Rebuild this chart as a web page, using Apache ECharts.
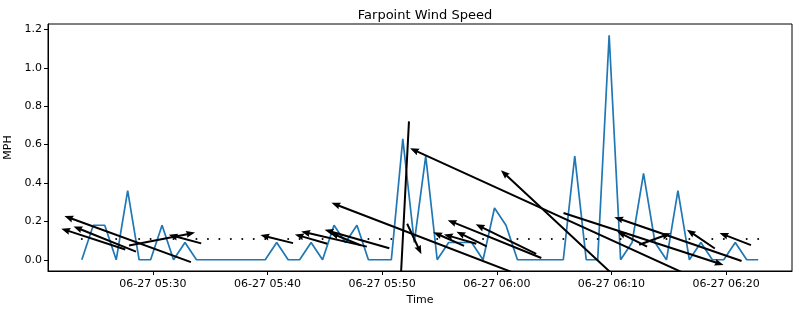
<!DOCTYPE html>
<html>
<head>
<meta charset="utf-8">
<script src="https://cdn.jsdelivr.net/npm/echarts@6/dist/echarts.min.js"></script>
<style>
  html, body { margin: 0; padding: 0; background: #fff; }
  #chart { width: 799px; height: 311px; }
</style>
</head>
<body>
<div id="chart"></div>
<script>
// ---- data ----
const day = '2024-06-27';
const times = [
  '05:23:48','05:24:48','05:25:48','05:26:48','05:27:48','05:28:48','05:29:48','05:30:48','05:31:48','05:32:48',
  '05:33:48','05:34:48','05:35:48','05:36:48','05:37:48','05:38:48','05:39:48','05:40:48','05:41:48','05:42:48',
  '05:43:48','05:44:48','05:45:48','05:46:48','05:47:48','05:48:48','05:49:48','05:50:48','05:51:48','05:52:48',
  '05:53:48','05:54:48','05:55:48','05:56:48','05:57:48','05:58:48','05:59:48','06:00:48','06:01:48','06:02:48',
  '06:03:48','06:04:48','06:05:48','06:06:48','06:07:48','06:08:48','06:09:48','06:10:48','06:11:48','06:12:48',
  '06:13:48','06:14:48','06:15:48','06:16:48','06:17:48','06:18:48','06:19:48','06:20:48','06:21:48','06:22:48'
];
const speedMph = [
  0, 0.18, 0.18, 0, 0.36, 0, 0, 0.18, 0, 0.09,
  0, 0, 0, 0, 0, 0, 0, 0.09, 0, 0,
  0.09, 0, 0.18, 0.09, 0.18, 0, 0, 0, 0.63, 0.09,
  0.54, 0, 0.09, 0.09, 0.09, 0, 0.27, 0.18, 0, 0,
  0, 0, 0, 0.54, 0, 0, 1.17, 0, 0.09, 0.45,
  0.09, 0, 0.36, 0, 0.09, 0, 0, 0.09, 0, 0
];
// arrow direction (degrees, counter-clockwise from +x on screen); null = calm
const arrowDeg = [
  null, 162, 158, null, 160, null, null, 11, null, 165,
  null, null, null, null, null, null, null, 166, null, null,
  164, null, 167, 158, 164, null, null, null, 267, 295,
  159, null, 156, 164, 154, null, 158, 154, null, null,
  null, null, null, 137, null, null, 155.5, null, 153, 342,
  20, null, 161, null, 146, null, null, 159, null, null
];
const quiverBaseline = 0.108;     // MPH level where arrows are centred
const xRange = ['05:20:51', '06:25:45'];
const yRange = [-0.0585, 1.2285];
const xTickLabels = ['06-27 05:30', '06-27 05:40', '06-27 05:50', '06-27 06:00', '06-27 06:10', '06-27 06:20'];
const yTicks = [0, 0.2, 0.4, 0.6, 0.8, 1.0, 1.2];

// ---- style constants ----
const ARROW_PX_PER_MPH = 374;
const SHAFT_W = 2, HEAD_L = 9, HEAD_W = 7;
const FONT = 'DejaVu Sans';

const toMs = (hms) => new Date(day + 'T' + hms).getTime();
const tickMs = xTickLabels.map(l => new Date(day.slice(0, 4) + '-' + l.slice(0, 5) + 'T' + l.slice(6) + ':00').getTime());
const pad = n => (n < 10 ? '0' : '') + n;
const fmtTime = v => { const d = new Date(v); return pad(d.getMonth() + 1) + '-' + pad(d.getDate()) + ' ' + pad(d.getHours()) + ':' + pad(d.getMinutes()); };

const lineData = times.map((t, i) => [toMs(t), speedMph[i]]);
const quiverData = times.map((t, i) => [toMs(t), speedMph[i], arrowDeg[i] == null ? 0 : arrowDeg[i]]);

function renderArrow(params, api) {
  const s = api.value(1);
  const deg = api.value(2);
  const c = api.coord([api.value(0), quiverBaseline]);
  if (!s) {
    return { type: 'circle', shape: { cx: c[0], cy: c[1], r: 1 }, style: { fill: '#000' } };
  }
  const L = s * ARROW_PX_PER_MPH;
  const a = deg * Math.PI / 180;
  const ux = Math.cos(a), uy = -Math.sin(a);
  const px = -uy, py = ux;
  const tail = [c[0] - ux * L / 2, c[1] - uy * L / 2];
  const tip = [c[0] + ux * L / 2, c[1] + uy * L / 2];
  const hl = Math.min(HEAD_L, L * 0.6);
  const neck = [tip[0] - ux * hl, tip[1] - uy * hl];
  const neck2 = [tip[0] - ux * hl * 0.9, tip[1] - uy * hl * 0.9];
  const pts = [
    [tail[0] + px * SHAFT_W / 2, tail[1] + py * SHAFT_W / 2],
    [neck2[0] + px * SHAFT_W / 2, neck2[1] + py * SHAFT_W / 2],
    [neck[0] + px * HEAD_W / 2, neck[1] + py * HEAD_W / 2],
    tip,
    [neck[0] - px * HEAD_W / 2, neck[1] - py * HEAD_W / 2],
    [neck2[0] - px * SHAFT_W / 2, neck2[1] - py * SHAFT_W / 2],
    [tail[0] - px * SHAFT_W / 2, tail[1] - py * SHAFT_W / 2]
  ];
  return { type: 'polygon', shape: { points: pts }, style: { fill: '#000' } };
}

const chart = echarts.init(document.getElementById('chart'), null, { renderer: 'canvas' });
chart.setOption({
  animation: false,
  backgroundColor: '#fff',
  textStyle: { fontFamily: FONT },
  title: {
    text: 'Farpoint Wind Speed',
    left: 420, top: 4, textAlign: 'center',
    textStyle: { fontFamily: FONT, fontSize: 13, fontWeight: 'normal', color: '#000' }
  },
  grid: {
    left: 48, top: 24, right: 7, bottom: 40,
    containLabel: false, outerBoundsMode: 'none',
    show: true, borderColor: '#000', borderWidth: 1, backgroundColor: 'transparent'
  },
  xAxis: {
    type: 'value',
    min: toMs(xRange[0]), max: toMs(xRange[1]),
    name: 'Time', nameLocation: 'middle', nameGap: 17,
    nameTextStyle: { fontFamily: FONT, fontSize: 11, color: '#000' },
    axisLine: { show: true, onZero: false, lineStyle: { color: '#000', width: 1 } },
    axisTick: { show: true, inside: false, length: 4, lineStyle: { color: '#000' }, customValues: tickMs },
    axisLabel: { show: true, margin: 8, fontFamily: FONT, fontSize: 11, color: '#000', customValues: tickMs,
      formatter: v => fmtTime(v), hideOverlap: false },
    splitLine: { show: false }
  },
  yAxis: {
    type: 'value',
    min: yRange[0], max: yRange[1],
    name: 'MPH', nameLocation: 'middle', nameGap: 27, nameRotate: 90,
    nameTextStyle: { fontFamily: FONT, fontSize: 11, color: '#000' },
    axisLine: { show: true, onZero: false, lineStyle: { color: '#000', width: 1 } },
    axisTick: { show: true, inside: false, length: 4, lineStyle: { color: '#000' }, customValues: yTicks },
    axisLabel: { show: true, margin: 6, fontFamily: FONT, fontSize: 11, color: '#000', customValues: yTicks,
      formatter: v => Number(v).toFixed(1) },
    splitLine: { show: false }
  },
  series: [
    {
      type: 'line', data: lineData, showSymbol: false, symbol: 'none',
      lineStyle: { color: '#1f77b4', width: 1.7 }, z: 2, silent: true
    },
    {
      type: 'custom', data: quiverData, renderItem: renderArrow, clip: true,
      encode: { x: 0, y: 1 }, z: 3, silent: true
    }
  ]
});
</script>
</body>
</html>
